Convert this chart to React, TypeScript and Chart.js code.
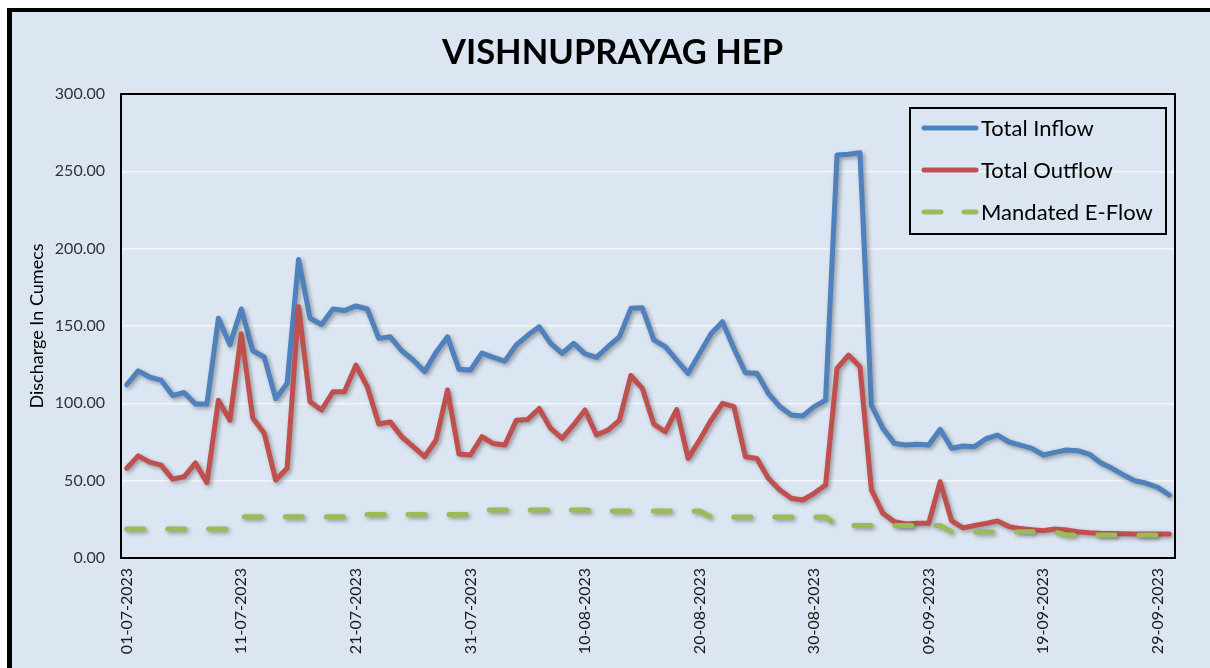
import React, { useEffect, useRef } from "react";
import { Chart, registerables } from "chart.js";

Chart.register(...registerables);

const TITLE = "VISHNUPRAYAG HEP";
const Y_TITLE = "Discharge In Cumecs";
const SERIES_NAMES = ["Total Inflow", "Total Outflow", "Mandated E-Flow"];
const START_DATE = [2023, 6, 1]; // 01-07-2023
const DAY_COUNT = 92;
const LABEL_EVERY = 10;
const Y_TICKS = [0, 50, 100, 150, 200, 250, 300];

const inflow = [
  112, 121, 117, 115, 105, 107, 99.5, 99.5, 155, 138,
  161, 134, 130, 103, 113, 193, 155, 151, 161, 160,
  163, 161, 142, 143, 134, 128, 120.5, 133, 143, 122,
  121.5, 132.5, 129.7, 127.3, 137.7, 144, 149.5, 138.8, 132.3, 138.8,
  132, 129.7, 136.6, 143, 161.4, 161.8, 141, 136.6, 128, 119.4,
  132.3, 145, 152.8, 135.5, 119.8, 119.4, 106.5, 97.9, 92.4, 91.8,
  97.9, 102, 260.5, 261, 262, 98.9, 83.8, 74.1, 73, 73.5,
  73, 83.2, 71, 72.4, 72, 77.1, 79.5, 75, 73, 70.9,
  66.6, 68.3, 69.8, 69.4, 67.2, 61.6, 58, 53.7, 50, 48.3,
  45.7, 40.7,
];

const outflow = [
  58, 66, 62, 60, 51, 52.5, 61.5, 48.7, 102, 89,
  145, 90.5, 80.7, 50.4, 58, 162.5, 101, 95.7, 107.5, 107.5,
  124.7, 110.7, 86.6, 88, 78.4, 72, 65.5, 76.3, 108.6, 67.2,
  66.6, 78.4, 74, 73, 89, 89.6, 96.7, 83.8, 77.4, 86,
  95.7, 79.5, 82.7, 89, 118, 109.7, 86.6, 81.6, 96, 64.4,
  76.3, 89, 100, 97.9, 65.5, 64.4, 51.5, 44, 38.6, 37.5,
  41.8, 47.2, 122.6, 131.2, 123.7, 44, 28.9, 23.5, 22, 22.4,
  22.4, 49.3, 24, 19.5, 21, 22.4, 23.9, 20.3, 19, 18.3,
  17.7, 18.7, 18.1, 17, 16.4, 16, 15.8, 15.6, 15.5, 15.5,
  15.5, 15.5,
];

const eflow = [
  18.7, 18.7, 18.7, 18.7, 18.7, 18.7, 18.7, 18.7, 18.7, 18.7,
  26.7, 26.7, 26.7, 26.7, 26.7, 26.7, 26.7, 26.7, 26.7, 26.7,
  28.2, 28.2, 28.2, 28.2, 28.2, 28.2, 28.2, 28.2, 28.2, 28.2,
  28.2, 31, 31, 31, 31, 31, 31, 31, 31, 31,
  31, 30.4, 30.4, 30.4, 30.4, 30.4, 30.4, 30.4, 30.4, 30.4,
  30.4, 26.5, 26.5, 26.5, 26.5, 26.5, 26.5, 26.5, 26.5, 26.5,
  26.5, 26.5, 21, 21, 21, 21, 21, 21, 21, 21,
  21, 21, 17, 17, 17, 17, 17, 17, 17, 17,
  17, 17, 14.9, 14.9, 14.9, 14.9, 14.9, 14.9, 14.9, 14.9,
  14.9, 14.9,
];

const COLORS = ["#4F81BD", "#C0504D", "#9BBB59"];
const BG = "#DCE6F2";
const FONT = "Lato, 'Open Sans', 'DejaVu Sans', sans-serif";

function makeLabels(): string[] {
  const out: string[] = [];
  const d = new Date(START_DATE[0], START_DATE[1], START_DATE[2]);
  for (let i = 0; i < DAY_COUNT; i++) {
    const dd = String(d.getDate()).padStart(2, "0");
    const mm = String(d.getMonth() + 1).padStart(2, "0");
    out.push(`${dd}-${mm}-${d.getFullYear()}`);
    d.setDate(d.getDate() + 1);
  }
  return out;
}

const frame = {
  id: "frame",
  beforeDraw(chart: any) {
    const ctx = chart.ctx;
    ctx.save();
    ctx.fillStyle = "#ffffff";
    ctx.fillRect(0, 0, chart.width, chart.height);
    ctx.fillStyle = BG;
    ctx.fillRect(7, 8, chart.width - 7, chart.height - 8);
    ctx.fillStyle = "#000000";
    ctx.fillRect(7, 8, chart.width - 7, 4);
    ctx.fillRect(7, 8, 5, chart.height - 8);
    ctx.restore();
  },
  beforeDatasetDraw(chart: any) {
    const ctx = chart.ctx;
    ctx.save();
    ctx.shadowColor = "rgba(0,0,0,0.35)";
    ctx.shadowBlur = 4;
    ctx.shadowOffsetX = 2;
    ctx.shadowOffsetY = 2;
  },
  afterDatasetDraw(chart: any) {
    chart.ctx.restore();
  },
  afterDraw(chart: any) {
    const ctx = chart.ctx;
    const a = chart.chartArea;
    ctx.save();
    ctx.strokeStyle = "#000000";
    ctx.lineWidth = 2;
    ctx.strokeRect(a.left, a.top, a.right - a.left, a.bottom - a.top);

    // legend
    const lx = 910, ly = 108, lw = 256, lh = 126;
    ctx.lineWidth = 2;
    ctx.strokeRect(lx, ly, lw, lh);
    const rows = [128, 170, 212];
    ctx.lineCap = "round";
    ctx.lineWidth = 5;
    rows.forEach((y, i) => {
      ctx.strokeStyle = COLORS[i];
      ctx.beginPath();
      if (i === 2) {
        ctx.moveTo(924, y);
        ctx.lineTo(941, y);
        ctx.moveTo(964, y);
        ctx.lineTo(976, y);
      } else {
        ctx.moveTo(924, y);
        ctx.lineTo(976, y);
      }
      ctx.stroke();
      ctx.fillStyle = "#000000";
      ctx.font = `22px ${FONT}`;
      ctx.textBaseline = "middle";
      ctx.textAlign = "left";
      ctx.fillText(SERIES_NAMES[i], 981, y + 1);
    });
    ctx.restore();
  },
};

export default function App() {
  const ref = useRef<HTMLCanvasElement | null>(null);

  useEffect(() => {
    document.body.style.margin = "0";
    const labels = makeLabels();
    const mk = (i: number, data: number[], extra: any = {}) => ({
      label: SERIES_NAMES[i],
      data,
      borderColor: COLORS[i],
      backgroundColor: COLORS[i],
      borderWidth: 5,
      pointRadius: 0,
      tension: 0,
      borderCapStyle: "round",
      borderJoinStyle: "round",
      fill: false,
      ...extra,
    });
    const chart = new Chart(ref.current as HTMLCanvasElement, {
      type: "line",
      data: {
        labels,
        datasets: [
          mk(0, inflow, { order: 2 }),
          mk(1, outflow, { order: 1 }),
          mk(2, eflow, { order: 0, borderDash: [17, 24] }),
        ],
      },
      plugins: [frame],
      options: {
        responsive: false,
        animation: false,
        devicePixelRatio: 1,
        layout: { padding: { left: 50, right: 35, top: 21, bottom: 0 } },
        plugins: {
          legend: { display: false },
          tooltip: { enabled: false },
          title: {
            display: true,
            text: TITLE,
            color: "#000000",
            font: { family: FONT, size: 34.5, weight: "bold", lineHeight: 1.2 },
            padding: { top: 11, bottom: 20.6 },
          },
        },
        scales: {
          x: {
            type: "category",
            offset: true,
            grid: { display: false, drawTicks: false },
            border: { display: false },
            afterFit: (s: any) => {
              s.height = 110;
            },
            ticks: {
              autoSkip: false,
              maxRotation: 90,
              minRotation: 90,
              padding: 10,
              color: "#1a1a1a",
              font: { family: FONT, size: 16 },
              callback: (_v: any, i: number) => (i % LABEL_EVERY === 0 ? labels[i] : ""),
            },
          },
          y: {
            min: Y_TICKS[0],
            max: Y_TICKS[Y_TICKS.length - 1],
            afterFit: (s: any) => {
              s.width = 71;
            },
            afterBuildTicks: (s: any) => {
              s.ticks = Y_TICKS.map((v) => ({ value: v }));
            },
            grid: { color: "#F4F6FA", lineWidth: 1.5, drawTicks: false },
            border: { display: false },
            ticks: {
              padding: 16,
              color: "#333333",
              font: { family: FONT, size: 16 },
              callback: (v: any) => Number(v).toFixed(2),
            },
            title: {
              display: true,
              text: Y_TITLE,
              color: "#000000",
              font: { family: FONT, size: 18 },
              padding: { top: -24, bottom: 0 },
            },
          },
        },
      },
    } as any);
    return () => chart.destroy();
  }, []);

  return (
    <div style={{ width: 1210, height: 668, position: "relative" }}>
      <canvas ref={ref} width={1210} height={668} style={{ display: "block" }} />
    </div>
  );
}
